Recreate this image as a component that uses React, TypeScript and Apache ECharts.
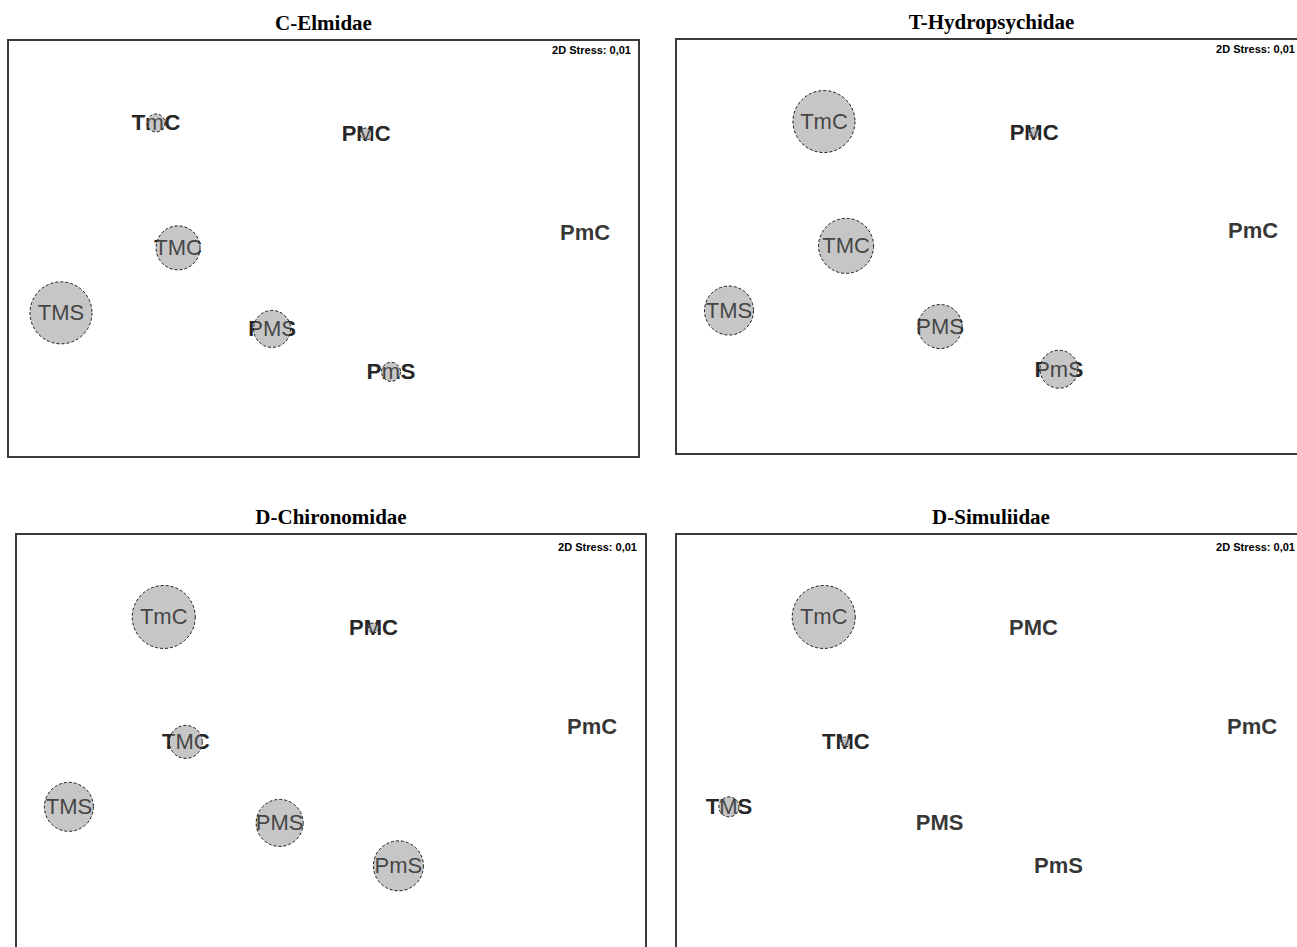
import React, { useEffect, useRef } from "react";
import * as echarts from "echarts";

// MDS ordination of the seven sites (same configuration in every panel)
const sites = ["TmC", "PMC", "TMC", "PmC", "TMS", "PMS", "PmS"];
const mdsX = [-0.531, 0.135, -0.461, 0.829, -0.832, -0.163, 0.214];
const mdsY = [0.398, 0.363, 0.002, 0.052, -0.204, -0.255, -0.391];

// Bubble sizes (relative abundance of each taxon per site)
const elmidae = [18, 12, 44, 0, 62, 37, 19];
const hydropsychidae = [62, 10, 55, 0, 49, 44, 38];
const chironomidae = [63, 10, 33, 0, 49, 47, 50];
const simuliidae = [63, 0, 10, 0, 20, 0, 0];

const panelTitles = ["C-Elmidae", "T-Hydropsychidae", "D-Chironomidae", "D-Simuliidae"];
const panelValues = [elmidae, hydropsychidae, chironomidae, simuliidae];
const stressLabel = "2D Stress: 0,01";

const X_RANGE = [-1, 1];
const Y_RANGE = [-0.661, 0.661];

// Panel frames (layout)
const frames = [
  { left: 8, top: 40, width: 631, height: 417, titleY: 23, stressDy: 10, stressRight: 631 },
  { left: 676, top: 39, width: 631, height: 415, titleY: 22, stressDy: 10, stressRight: 1295 },
  { left: 16, top: 534, width: 630, height: 417, titleY: 517, stressDy: 13, stressRight: 637 },
  { left: 676, top: 534, width: 630, height: 417, titleY: 517, stressDy: 13, stressRight: 1295 },
];

export default function App() {
  const ref = useRef<HTMLDivElement>(null);

  useEffect(() => {
    if (!ref.current) return;
    const chart = echarts.init(ref.current, undefined, { renderer: "svg" });

    const grids: any[] = [];
    const xAxes: any[] = [];
    const yAxes: any[] = [];
    const series: any[] = [];
    const graphics: any[] = [];
    const labelFont = "'Liberation Sans', Arial, sans-serif";

    frames.forEach((f, i) => {
      grids.push({
        left: f.left,
        top: f.top,
        width: f.width,
        height: f.height,
        show: true,
        borderColor: "#3a3a3a",
        borderWidth: 2,
        backgroundColor: "#ffffff",
        containLabel: false,
      });
      xAxes.push({
        type: "value",
        gridIndex: i,
        min: X_RANGE[0],
        max: X_RANGE[1],
        show: false,
        splitLine: { show: false },
      });
      yAxes.push({
        type: "value",
        gridIndex: i,
        min: Y_RANGE[0],
        max: Y_RANGE[1],
        show: false,
        splitLine: { show: false },
      });

      const vals = panelValues[i];
      const pts = sites.map((s, k) => ({ name: s, value: [mdsX[k], mdsY[k], vals[k]] }));
      const withBubble = pts.filter((p) => p.value[2] > 0);

      // bold labels underneath
      series.push({
        type: "scatter",
        xAxisIndex: i,
        yAxisIndex: i,
        z: 1,
        symbolSize: 1,
        itemStyle: { color: "rgba(0,0,0,0)" },
        silent: true,
        data: pts,
        label: {
          show: true,
          position: "inside",
          formatter: (p: any) => p.name,
          fontFamily: labelFont,
          fontWeight: "bold",
          fontSize: 22,
          color: "#000000",
        },
      });
      // bubbles
      series.push({
        type: "scatter",
        xAxisIndex: i,
        yAxisIndex: i,
        z: 2,
        silent: true,
        data: withBubble,
        symbolSize: (v: number[]) => v[2],
        itemStyle: {
          color: "#c6c6c6",
          borderColor: "#1a1a1a",
          borderWidth: 1,
          borderType: [3, 2],
          opacity: 1,
        },
      });
      // regular labels on top of the bubbles
      series.push({
        type: "scatter",
        xAxisIndex: i,
        yAxisIndex: i,
        z: 3,
        symbolSize: 1,
        itemStyle: { color: "rgba(0,0,0,0)" },
        silent: true,
        data: withBubble,
        label: {
          show: true,
          position: "inside",
          formatter: (p: any) => p.name,
          fontFamily: labelFont,
          fontWeight: "normal",
          fontSize: 22,
          color: "#222222",
        },
      });

      graphics.push({
        type: "text",
        x: f.left + f.width / 2,
        y: f.titleY,
        z: 10,
        style: {
          text: panelTitles[i],
          align: "center",
          verticalAlign: "middle",
          font: "bold 21px 'Liberation Serif', 'Times New Roman', serif",
          fill: "#000000",
        },
      });
      graphics.push({
        type: "text",
        x: f.stressRight,
        y: f.top + f.stressDy,
        z: 10,
        style: {
          text: stressLabel,
          align: "right",
          verticalAlign: "middle",
          font: "bold 11px 'Liberation Sans', Arial, sans-serif",
          fill: "#000000",
        },
      });
    });

    chart.setOption({
      animation: false,
      backgroundColor: "#ffffff",
      grid: grids,
      xAxis: xAxes,
      yAxis: yAxes,
      series,
      graphic: graphics,
    });

    return () => chart.dispose();
  }, []);

  return (
    <div
      ref={ref}
      style={{ position: "fixed", left: 0, top: 0, width: 1320, height: 1000, background: "#fff" }}
    />
  );
}
